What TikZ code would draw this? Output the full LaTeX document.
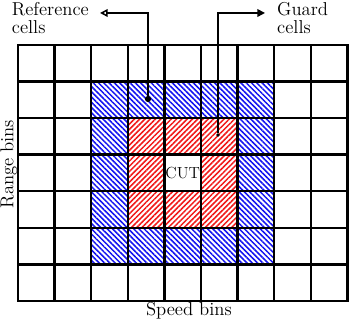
\documentclass[tikz,border=0pt]{standalone}
\usepackage{tikz}
\usetikzlibrary{patterns.meta,arrows.meta}
\definecolor{refblue}{RGB}{20, 20, 240}
\definecolor{guardred}{RGB}{240, 25, 25}

\begin{document}
\begin{tikzpicture}[x=1cm, y=1cm]
\useasboundingbox (-0.492,-0.574) rectangle (9.071,8.224);
\tikzset{
  refcell/.style={pattern={Lines[angle=-45,distance=2.9pt,line width=1.2pt]}, pattern color=refblue},
  guardcell/.style={pattern={Lines[angle=45,distance=2.9pt,line width=1.2pt]}, pattern color=guardred},
  lbl/.style={font=\fontsize{14.5}{14}\selectfont, align=left, inner sep=1pt},
  pin/.style={circle, fill=black, inner sep=0pt, minimum size=#1},
  refarrow/.style={line width=1.2pt, -{Triangle[open,length=6pt,width=6pt]}},
  guardarrow/.style={line width=1.2pt, -{Triangle[length=6pt,width=6pt]}}
}
% Cell: {column}{row}{style}, counted from the bottom-left corner
\newcommand{\mycell}[3]{%
  \fill[#3] (#1,#2) rectangle ++(1,1);
}
% reference ring (blue)
\foreach \c in {2,...,6} {\mycell{\c}{1}{refcell} \mycell{\c}{5}{refcell}}
\foreach \r in {2,3,4} {\mycell{2}{\r}{refcell} \mycell{6}{\r}{refcell}}
% guard ring (red)
\foreach \c in {3,4,5} {\mycell{\c}{2}{guardcell} \mycell{\c}{4}{guardcell}}
\mycell{3}{3}{guardcell}
\mycell{5}{3}{guardcell}
% grid
\draw[line width=2pt, line cap=rect] (0,0) grid (9,7);
% cell under test
\node[font=\fontsize{12.5}{13}\selectfont] (cut) at (4.5,3.5) {CUT};
% axis labels
\node[lbl, rotate=90] (rangelbl) at (-0.25,3.74) {Range bins};
\node[lbl] (speedlbl) at (4.67,-0.28) {Speed bins};
% callouts
\node[pin=4.8pt] (refdot) at (3.552,5.519) {};
\coordinate (reftip) at (2.24,7.869);
\node[lbl, anchor=north east] (reflabel) at (1.975,8.19) {Reference\\cells};
\draw[refarrow] (refdot) |- (reftip);
\node[pin=3pt] (guarddot) at (5.464,4.536) {};
\coordinate (guardtip) at (6.749,7.869);
\node[lbl, anchor=north west] (guardlabel) at (7.04,8.19) {Guard\\cells};
\draw[guardarrow] (guarddot) |- (guardtip);
\end{tikzpicture}
\end{document}
